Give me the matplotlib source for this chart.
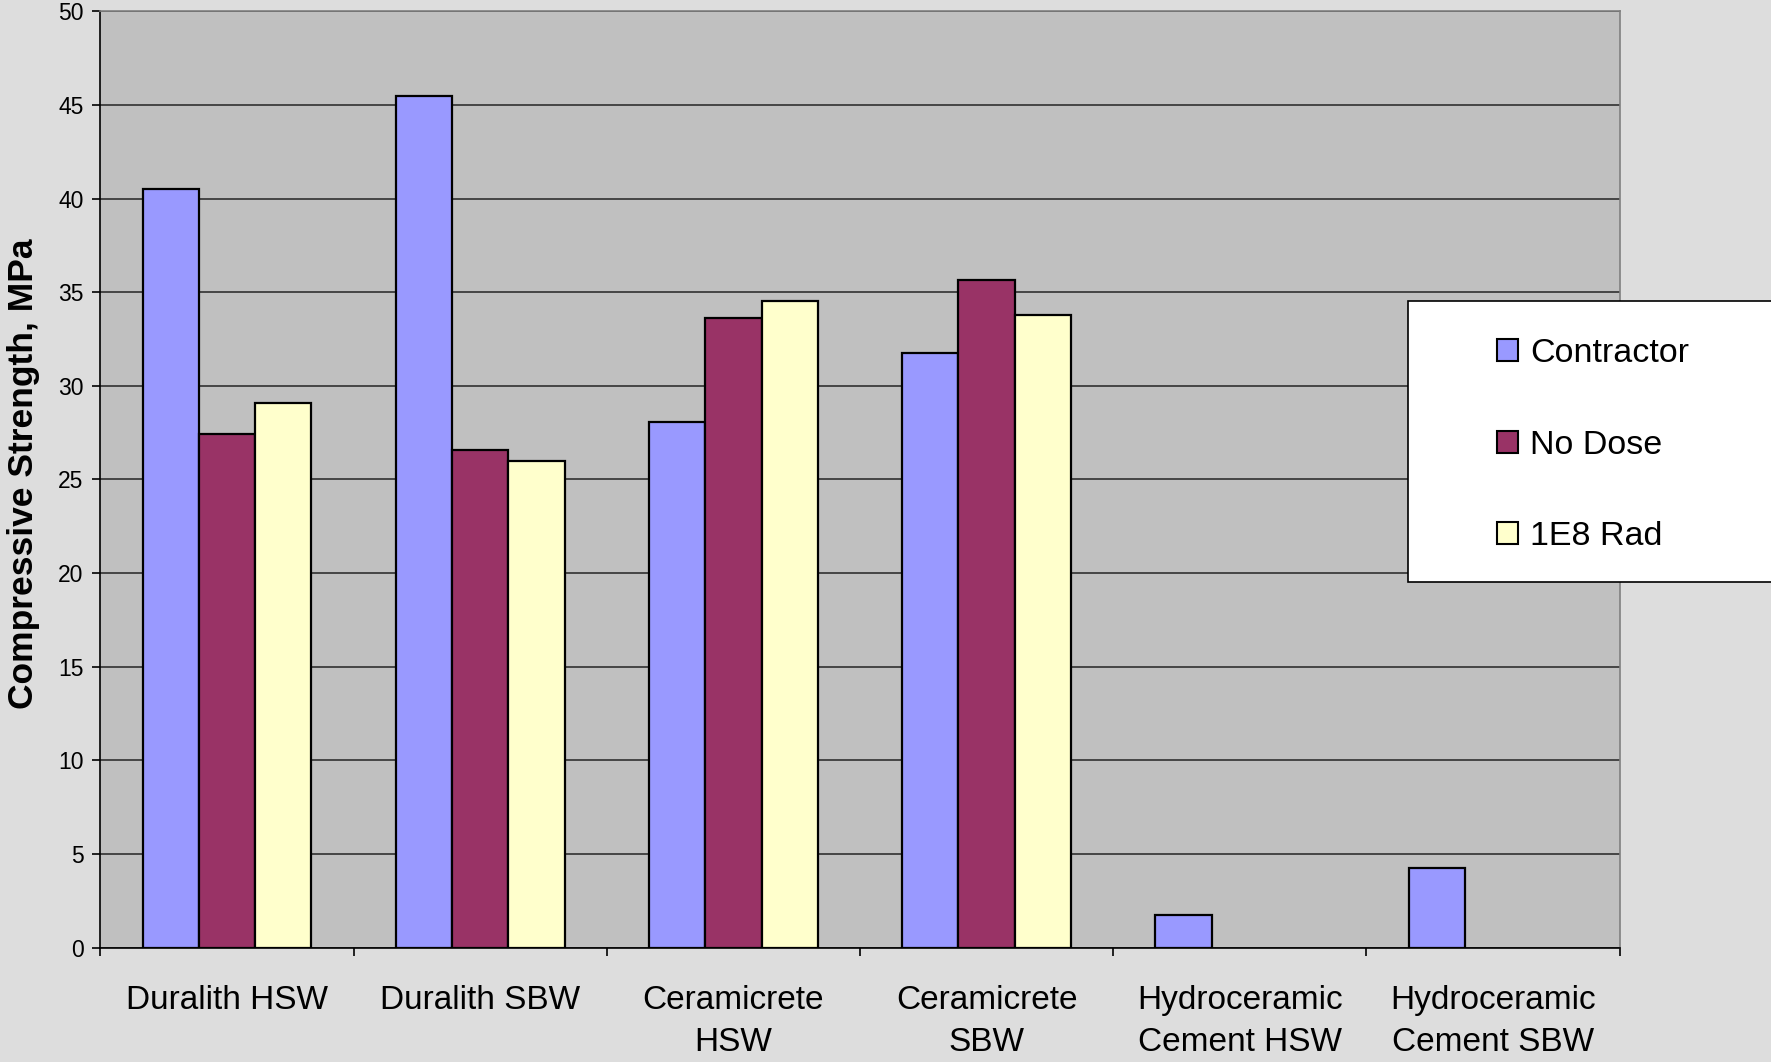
import numpy as np
import matplotlib
matplotlib.use('Agg')
from matplotlib import pyplot as plt
from matplotlib.patches import Rectangle, Patch

categories = ['Duralith HSW', 'Duralith SBW', 'Ceramicrete\nHSW', 'Ceramicrete\nSBW',
              'Hydroceramic\nCement HSW', 'Hydroceramic\nCement SBW']
contractor = [40.5, 45.5, 28.05, 31.75, 1.75, 4.28]
no_dose = [27.45, 26.6, 33.6, 35.65, np.nan, np.nan]
rad_1e8 = [29.1, 26.0, 34.55, 33.8, np.nan, np.nan]
series_names = ['Contractor', 'No Dose', '1E8 Rad']
colors = ['#9999FF', '#993366', '#FFFFCC']

plt.rcParams['font.family'] = ['Liberation Sans', 'DejaVu Sans']

fig = plt.figure(figsize=(17.71, 10.62), dpi=100, facecolor='#DDDDDD')
ax = fig.add_axes([0.0567, 0.1076, 0.8578, 0.8818])
ax.set_facecolor('#C0C0C0')

x = np.arange(len(categories))
w = 2.0 / 9
for i, vals in enumerate([contractor, no_dose, rad_1e8]):
    ax.bar(x + (i - 1) * w, vals, width=w, color=colors[i], edgecolor='black',
           linewidth=1.6, zorder=3)

ax.set_ylim(0, 50)
ax.set_xlim(-0.5, len(categories) - 0.5)
ax.set_yticks(np.arange(0, 51, 5))
ax.yaxis.grid(True, color='#303030', linewidth=1.2, zorder=1)
ax.set_axisbelow(True)
ax.tick_params(axis='y', direction='out', length=6, width=1.2, pad=6, labelsize=16.5)

ax.set_xticks(x)
ax.set_xticklabels(categories, fontsize=24, linespacing=1.45)
ax.tick_params(axis='x', which='major', length=0, pad=27)
ax.set_xticks(np.arange(-0.5, len(categories)), minor=True)
ax.tick_params(axis='x', which='minor', direction='out', length=6, width=1.2)

for s in ['left', 'bottom']:
    ax.spines[s].set_color('black')
    ax.spines[s].set_linewidth(1.2)
for s in ['top', 'right']:
    ax.spines[s].set_color('#808080')
    ax.spines[s].set_linewidth(1.2)

fig.text(0.0135, 0.5537, 'Compressive Strength, MPa', rotation=90, ha='center',
         va='center', fontsize=25.5, fontweight='bold')

# legend box runs off the right edge like the original
fig.patches.append(Rectangle((0.795, 0.4523), 0.25, 0.2646, transform=fig.transFigure,
                             facecolor='white', edgecolor='black', linewidth=1.2))
handles = [Patch(facecolor=c, edgecolor='black', linewidth=1.5) for c in colors]
fig.legend(handles, series_names, loc='center left', bbox_to_anchor=(0.8453, 0.5808),
           frameon=False, fontsize=24.5, handlelength=0.62, handleheight=0.62,
           handletextpad=0.35, labelspacing=1.78, borderpad=0, borderaxespad=0)

fig.savefig('out.png', dpi=100, facecolor=fig.get_facecolor())
